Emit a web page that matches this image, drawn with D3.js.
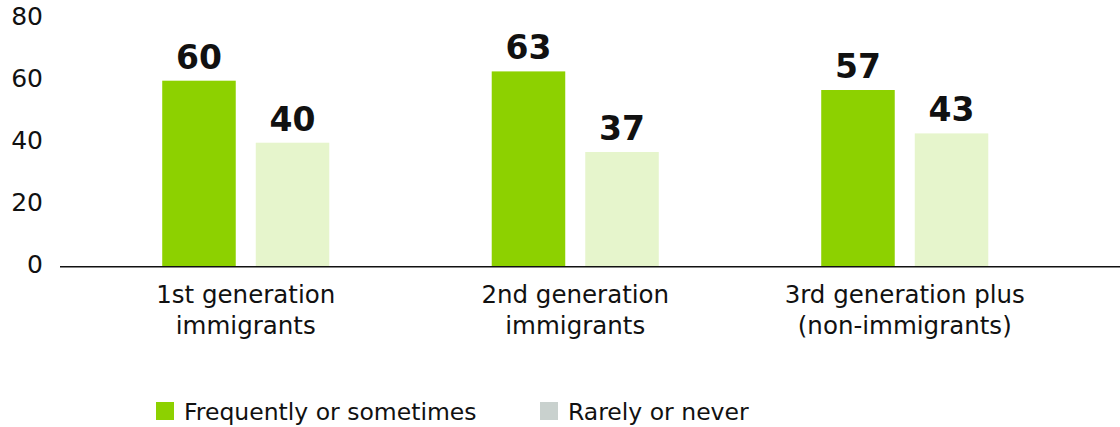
<!DOCTYPE html>
<html><head><meta charset="utf-8">
<script src="https://cdn.jsdelivr.net/npm/d3@7"></script>
<style>body{margin:0;background:#fff}svg{display:block}text{font-family:"DejaVu Sans",sans-serif;fill:#111}</style>
</head><body><svg id="c" width="1120" height="427"></svg>
<script>
const categories = [["1st generation","immigrants"],["2nd generation","immigrants"],["3rd generation plus","(non-immigrants)"]];
const seriesNames = ["Frequently or sometimes","Rarely or never"];
const frequently = [60, 63, 57];
const rarely = [40, 37, 43];
const yTicks = [0, 20, 40, 60, 80];
const barColors = ["#8dd100", "#e6f5cc"];
const legendColors = ["#8dd100", "#c9d1ce"];

const svg = d3.select("#c");
const catKeys = categories.map(c => c.join(" "));
const x0 = d3.scaleBand().domain(catKeys).range([81, 1069.5]).paddingInner(0.493).paddingOuter(0.2465);
const x1 = d3.scaleBand().domain(seriesNames).range([0, x0.bandwidth()]).paddingInner(0.214);
const y = d3.scaleLinear().domain([0, 80]).range([266.7, 18.7]);

// y axis labels
const yAxis = d3.axisLeft(y).tickValues(yTicks).tickSize(0).tickPadding(0);
const yg = svg.append("g").attr("transform", "translate(43,-3)").call(yAxis);
yg.select(".domain").remove();
yg.selectAll("text").attr("font-size", 25).attr("fill", "#111").attr("dy", "0.36em").style("font-family", "'DejaVu Sans', sans-serif");

const data = catKeys.map((k, i) => ({k, vals: [frequently[i], rarely[i]]}));
const g = svg.append("g");
const groups = g.selectAll("g.grp").data(data).join("g").attr("class","grp")
  .attr("transform", d => `translate(${x0(d.k)},0)`);
groups.selectAll("rect").data(d => d.vals.map((v, j) => ({s: seriesNames[j], v, j})))
  .join("rect")
  .attr("x", d => x1(d.s)).attr("width", x1.bandwidth())
  .attr("y", d => y(d.v)).attr("height", d => y(0) - y(d.v))
  .attr("fill", d => barColors[d.j]);
groups.selectAll("text.val").data(d => d.vals.map((v, j) => ({s: seriesNames[j], v, j})))
  .join("text").attr("class","val")
  .attr("x", d => x1(d.s) + x1.bandwidth()/2).attr("y", d => y(d.v) - 12)
  .attr("text-anchor","middle").attr("font-size", 33).attr("font-weight", 700)
  .text(d => d.v);

// x axis
const xAxis = d3.axisBottom(x0).tickSize(0).tickFormat("");
const xg = svg.append("g").attr("transform", `translate(0,${y(0)})`).call(xAxis);
xg.select(".domain").remove();
svg.append("line").attr("x1", 60).attr("x2", 1120).attr("y1", y(0)).attr("y2", y(0)).attr("stroke", "#111").attr("stroke-width", 1.5);
xg.selectAll(".tick").each(function(d, i) {
  const t = d3.select(this).append("text").attr("text-anchor","middle").attr("font-size", 24.5).attr("fill","#111");
  categories[i].forEach((line, li) => t.append("tspan").attr("x", 0).attr("y", 36 + li*31).text(line));
});

// legend
const legend = svg.append("g");
const lx = [156, 540];
seriesNames.forEach((s, i) => {
  legend.append("rect").attr("x", lx[i]).attr("y", 402).attr("width", 18).attr("height", 18).attr("fill", legendColors[i]);
  legend.append("text").attr("x", lx[i] + 28).attr("y", 420).attr("font-size", 23.5).text(s);
});
</script></body></html>
